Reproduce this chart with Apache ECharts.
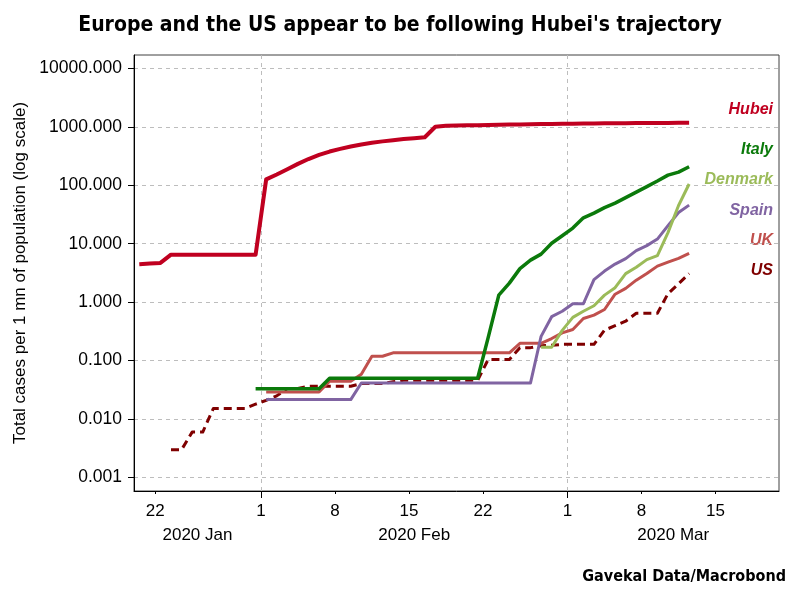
<!DOCTYPE html>
<html><head><meta charset="utf-8">
<script src="https://cdn.jsdelivr.net/npm/echarts@6/dist/echarts.min.js"></script>
<style>html,body{margin:0;padding:0;background:#fff}#chart{width:800px;height:600px}</style>
</head><body><div id="chart"></div>
<script>
// ---- data ----
const dates = [
  '2020-01-20','2020-01-21','2020-01-22','2020-01-23','2020-01-24','2020-01-25','2020-01-26','2020-01-27','2020-01-28','2020-01-29','2020-01-30','2020-01-31',
  '2020-02-01','2020-02-02','2020-02-03','2020-02-04','2020-02-05','2020-02-06','2020-02-07','2020-02-08','2020-02-09','2020-02-10',
  '2020-02-11','2020-02-12','2020-02-13','2020-02-14','2020-02-15','2020-02-16','2020-02-17','2020-02-18','2020-02-19','2020-02-20',
  '2020-02-21','2020-02-22','2020-02-23','2020-02-24','2020-02-25','2020-02-26','2020-02-27','2020-02-28','2020-02-29',
  '2020-03-01','2020-03-02','2020-03-03','2020-03-04','2020-03-05','2020-03-06','2020-03-07','2020-03-08','2020-03-09','2020-03-10','2020-03-11','2020-03-12'
];
const hubei = [
  4.47,4.6,4.7,6.5,6.5,6.5,6.5,6.5,6.5,6.5,6.5,6.5,
  126,153,188,232,281,330,377,418,459,499,
  535,563,590,617,639,662,1000,1040,1050,1058,
  1066,1074,1082,1090,1098,1105,1112,1118,1124,
  1130,1135,1140,1144,1148,1152,1155,1158,1161,1164,1167,1170
];
const italy = [
  null,null,null,null,null,null,null,null,null,null,null,0.033,
  0.033,0.033,0.033,0.033,0.033,0.033,0.050,0.050,0.050,0.050,
  0.050,0.050,0.050,0.050,0.050,0.050,0.050,0.050,0.050,0.050,
  0.050,0.25,1.32,2.12,3.75,5.24,6.64,10.2,13.7,
  18.5,27.7,33.4,41.5,49.5,61.5,76.4,94.8,118,149,168,207
];
const denmark = [
  null,null,null,null,null,null,null,null,null,null,null,null,
  null,null,null,null,null,null,null,null,null,null,
  null,null,null,null,null,null,null,null,null,null,
  null,null,null,null,null,null,0.17,0.17,0.33,
  0.55,0.70,0.87,1.32,1.77,3.08,3.97,5.34,6.26,15.5,45,105
];
const spain = [
  null,null,null,null,null,null,null,null,null,null,null,null,
  0.0216,0.0216,0.0216,0.0216,0.0216,0.0216,0.0216,0.0216,0.0216,0.0416,
  0.0416,0.0416,0.0416,0.0416,0.0416,0.0416,0.0416,0.0416,0.0416,0.0416,
  0.0416,0.0416,0.0416,0.0416,0.0416,0.0416,0.26,0.565,0.70,
  0.94,0.94,2.43,3.40,4.48,5.56,7.62,9.28,12.0,20.4,34.1,45.7
];
const uk = [
  null,null,null,null,null,null,null,null,null,null,null,null,
  0.0292,0.0292,0.0292,0.0292,0.0292,0.0292,0.0445,0.0445,0.0445,0.0586,
  0.119,0.119,0.136,0.136,0.136,0.136,0.136,0.136,0.136,0.136,
  0.136,0.136,0.136,0.136,0.198,0.198,0.198,0.239,0.299,
  0.341,0.526,0.600,0.750,1.37,1.72,2.38,3.10,4.14,4.84,5.60,6.82
];
const us = [
  null,null,null,0.003,0.003,0.006,0.006,0.0152,0.0152,0.0152,0.0152,0.018,
  0.021,0.025,0.0333,0.0333,0.0365,0.0365,0.0365,0.0365,0.0365,0.0407,
  0.0407,0.0407,0.0436,0.0463,0.0463,0.0463,0.0463,0.0463,0.0463,0.0463,
  0.0463,0.105,0.105,0.105,0.167,0.167,0.18,0.183,0.19,
  0.19,0.19,0.19,0.332,0.396,0.473,0.648,0.648,0.648,1.40,2.06,3.10
];
const seriesNames = ['Hubei','Italy','Denmark','Spain','UK','US'];
const yTickValues = [0.001, 0.01, 0.1, 1, 10, 100, 1000, 10000];
const dayTickDates = ['2020-01-22','2020-02-01','2020-02-08','2020-02-15','2020-02-22','2020-03-01','2020-03-08','2020-03-15'];
const monthStartDates = ['2020-02-01','2020-03-01'];
const axisStart = '2020-01-20';
const axisEnd = '2020-03-21';
const monthNames = ['Jan','Feb','Mar','Apr','May','Jun','Jul','Aug','Sep','Oct','Nov','Dec'];

// ---- helpers ----
function ts(s, h) { const p = s.split('-').map(Number); return new Date(p[0], p[1]-1, p[2], h || 0).getTime(); }
function toSeriesData(arr) {
  const out = [];
  dates.forEach((d, i) => { if (arr[i] != null) out.push([ts(d, 12), arr[i]]); });
  return out;
}
const xMin = ts(axisStart), xMax = ts(axisEnd);
const bounds = [xMin].concat(monthStartDates.map(d => ts(d))).concat([xMax]);
const monthMids = [];
for (let i = 0; i < bounds.length - 1; i++) monthMids.push((bounds[i] + bounds[i+1]) / 2);

const FONT = '"Liberation Sans", Arial, sans-serif';
const NARROW = '"DejaVu Sans Condensed", "Liberation Sans", sans-serif';
const colors = {Hubei:'#c00020', Italy:'#0b7a0b', Denmark:'#9bbb59', Spain:'#8064a2', UK:'#c0504d', US:'#7f0000'};
const widths = {Hubei:4, Italy:3.5, Denmark:3, Spain:3, UK:3, US:3};
const seriesData = {Hubei:hubei, Italy:italy, Denmark:denmark, Spain:spain, UK:uk, US:us};
const labelYs = {Hubei:112, Italy:152, Denmark:182, Spain:213, UK:243, US:273};
const drawOrder = ['US','UK','Spain','Denmark','Italy','Hubei'];

const baseX = {
  type:'value', min:xMin, max:xMax, position:'bottom', gridIndex:0, scale:true
};

const option = {
  animation:false,
  backgroundColor:'#fff',
  title:[
    {text:"Europe and the US appear to be following Hubei's trajectory", left:'center', top:10,
     textStyle:{fontFamily:NARROW, fontWeight:'bold', fontSize:21, color:'#000'}},
    {text:'Gavekal Data/Macrobond', right:9, top:564,
     textStyle:{fontFamily:NARROW, fontWeight:'bold', fontSize:16, color:'#000'}}
  ],
  grid:{left:134, right:21, top:55, bottom:109, show:true, borderColor:'#404040', borderWidth:1, outerBoundsMode:'none', containLabel:false},
  xAxis:[
    Object.assign({}, baseX, {
      axisLine:{show:true, onZero:false, lineStyle:{color:'#000', width:1}},
      axisTick:{show:true, inside:false, length:3, customValues:dayTickDates.map(d => ts(d)), lineStyle:{color:'#000'}},
      axisLabel:{customValues:dayTickDates.map(d => ts(d)), formatter:(v) => String(new Date(v).getDate()),
                 fontFamily:FONT, fontSize:17, color:'#000', margin:12, hideOverlap:false},
      splitLine:{show:false}
    }),
    Object.assign({}, baseX, {
      axisLine:{show:false, onZero:false},
      axisTick:{show:true, inside:false, length:7, customValues:monthStartDates.map(d => ts(d)), lineStyle:{color:'#000'}},
      axisLabel:{show:false},
      splitLine:{show:true, lineStyle:{color:'#bdbdbd', type:[4,4], width:1}}
    }),
    Object.assign({}, baseX, {
      offset:24,
      axisLine:{show:false, onZero:false},
      axisTick:{show:false},
      axisLabel:{customValues:monthMids, formatter:(v) => { const d = new Date(v); return d.getFullYear() + ' ' + monthNames[d.getMonth()]; },
                 fontFamily:FONT, fontSize:17, color:'#000', margin:12, hideOverlap:false},
      splitLine:{show:false}
    })
  ],
  yAxis:{
    type:'log', logBase:10, min:0.00059, max:16890,
    axisLine:{show:true, lineStyle:{color:'#000', width:1}},
    axisTick:{show:true, inside:false, length:6, customValues:yTickValues, lineStyle:{color:'#000'}},
    axisLabel:{customValues:yTickValues, formatter:(v) => Number(v).toFixed(3), fontFamily:FONT, fontSize:17.5, color:'#000', margin:12},
    splitLine:{show:true, lineStyle:{color:'#bdbdbd', type:[4,4], width:1}},
    name:'Total cases per 1 mn of population (log scale)', nameLocation:'middle', nameGap:102, nameRotate:90,
    nameTextStyle:{fontFamily:FONT, fontSize:17, color:'#000'}
  },
  series: drawOrder.map(n => ({
    name:n, type:'line', xAxisIndex:0, yAxisIndex:0, showSymbol:false, symbol:'none', silent:true,
    data: toSeriesData(seriesData[n]),
    lineStyle:{color:colors[n], width:widths[n], type: n === 'US' ? [8,5] : 'solid', cap:'butt', join:'round'},
    itemStyle:{color:colors[n]}
  })),
  graphic: seriesNames.map(n => ({
    type:'text', right:27, top:labelYs[n] - 10,
    style:{text:n, fill:colors[n], font:'italic bold 16px ' + FONT}
  }))
};
const chart = echarts.init(document.getElementById('chart'), null, {renderer:'canvas'});
chart.setOption(option);
</script></body></html>
